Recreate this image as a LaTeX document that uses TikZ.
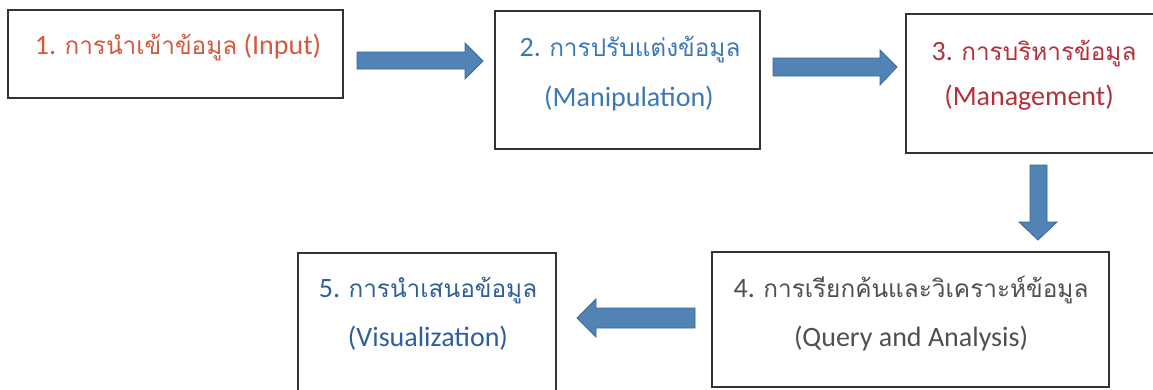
\documentclass[tikz,border=0pt]{standalone}
\usepackage{fontspec}
\setmainfont{Carlito}
\newfontfamily\thai[Script=Thai,Scale=0.87]{Loma}
\definecolor{tOrange}{HTML}{D5583C}
\definecolor{tBlue}{HTML}{3B78B8}
\definecolor{tRed}{HTML}{B2303A}
\definecolor{tGray}{HTML}{4F4F4F}
\definecolor{tNavy}{HTML}{2F5E9C}
\definecolor{arrFill}{HTML}{5283B5}
\definecolor{arrLine}{HTML}{3A6893}
\definecolor{boxLine}{HTML}{333333}
\begin{document}
\begin{tikzpicture}[x=1pt,y=-1pt,
  box/.style={draw=boxLine, line width=1.4pt, rectangle, anchor=north west, inner sep=0pt, outer sep=0pt},
  lbl/.style={anchor=base, inner sep=0pt, font=\fontsize{28}{34}\selectfont},
  blockarr/.style={fill=arrFill, draw=arrLine, line width=0.8pt, line join=miter}]
\useasboundingbox (0,0) rectangle (1153,389);
% boxes
\node[box, minimum width=335pt, minimum height=88pt] (b1) at (8,10) {};
\node[box, minimum width=265pt, minimum height=138pt] (b2) at (495,11) {};
\node[box, minimum width=260pt, minimum height=139pt] (b3) at (906,14) {};
\node[box, minimum width=397pt, minimum height=135pt] (b4) at (712,252) {};
\node[box, minimum width=258pt, minimum height=150pt] (b5) at (298,253) {};
% texts
\node[lbl, text=tOrange] (t1) at (178,54) {1. {\thai การนำเข้าข้อมูล} (Input)};
\node[lbl, text=tBlue] (t2a) at (630,56) {2. {\thai การปรับแต่งข้อมูล}};
\node[lbl, text=tBlue] (t2b) at (629,106) {(Manipulation)};
\node[lbl, text=tRed] (t3a) at (1034,60) {3. {\thai การบริหารข้อมูล}};
\node[lbl, text=tRed] (t3b) at (1029,105) {(Management)};
\node[lbl, text=tGray] (t4a) at (911,297) {4. {\thai การเรียกค้นและวิเคราะห์ข้อมูล}};
\node[lbl, text=tGray] (t4b) at (911,346) {(Query and Analysis)};
\node[lbl, text=tNavy] (t5a) at (428,297) {5. {\thai การนำเสนอข้อมูล}};
\node[lbl, text=tNavy] (t5b) at (428,346) {(Visualization)};
% block arrows
\draw[blockarr] (357,52) -- (465,52) -- (465,43) -- (483,61) -- (465,79) -- (465,69) -- (357,69) -- cycle;
\draw[blockarr] (773,58) -- (880,58) -- (880,50) -- (897,67) -- (880,85) -- (880,76) -- (773,76) -- cycle;
\draw[blockarr] (1030,165) -- (1047,165) -- (1047,222) -- (1057,222) -- (1038,240) -- (1019,222) -- (1030,222) -- cycle;
\draw[blockarr] (695,308) -- (596,308) -- (596,299) -- (577,318) -- (596,337) -- (596,328) -- (695,328) -- cycle;
\end{tikzpicture}
\end{document}
